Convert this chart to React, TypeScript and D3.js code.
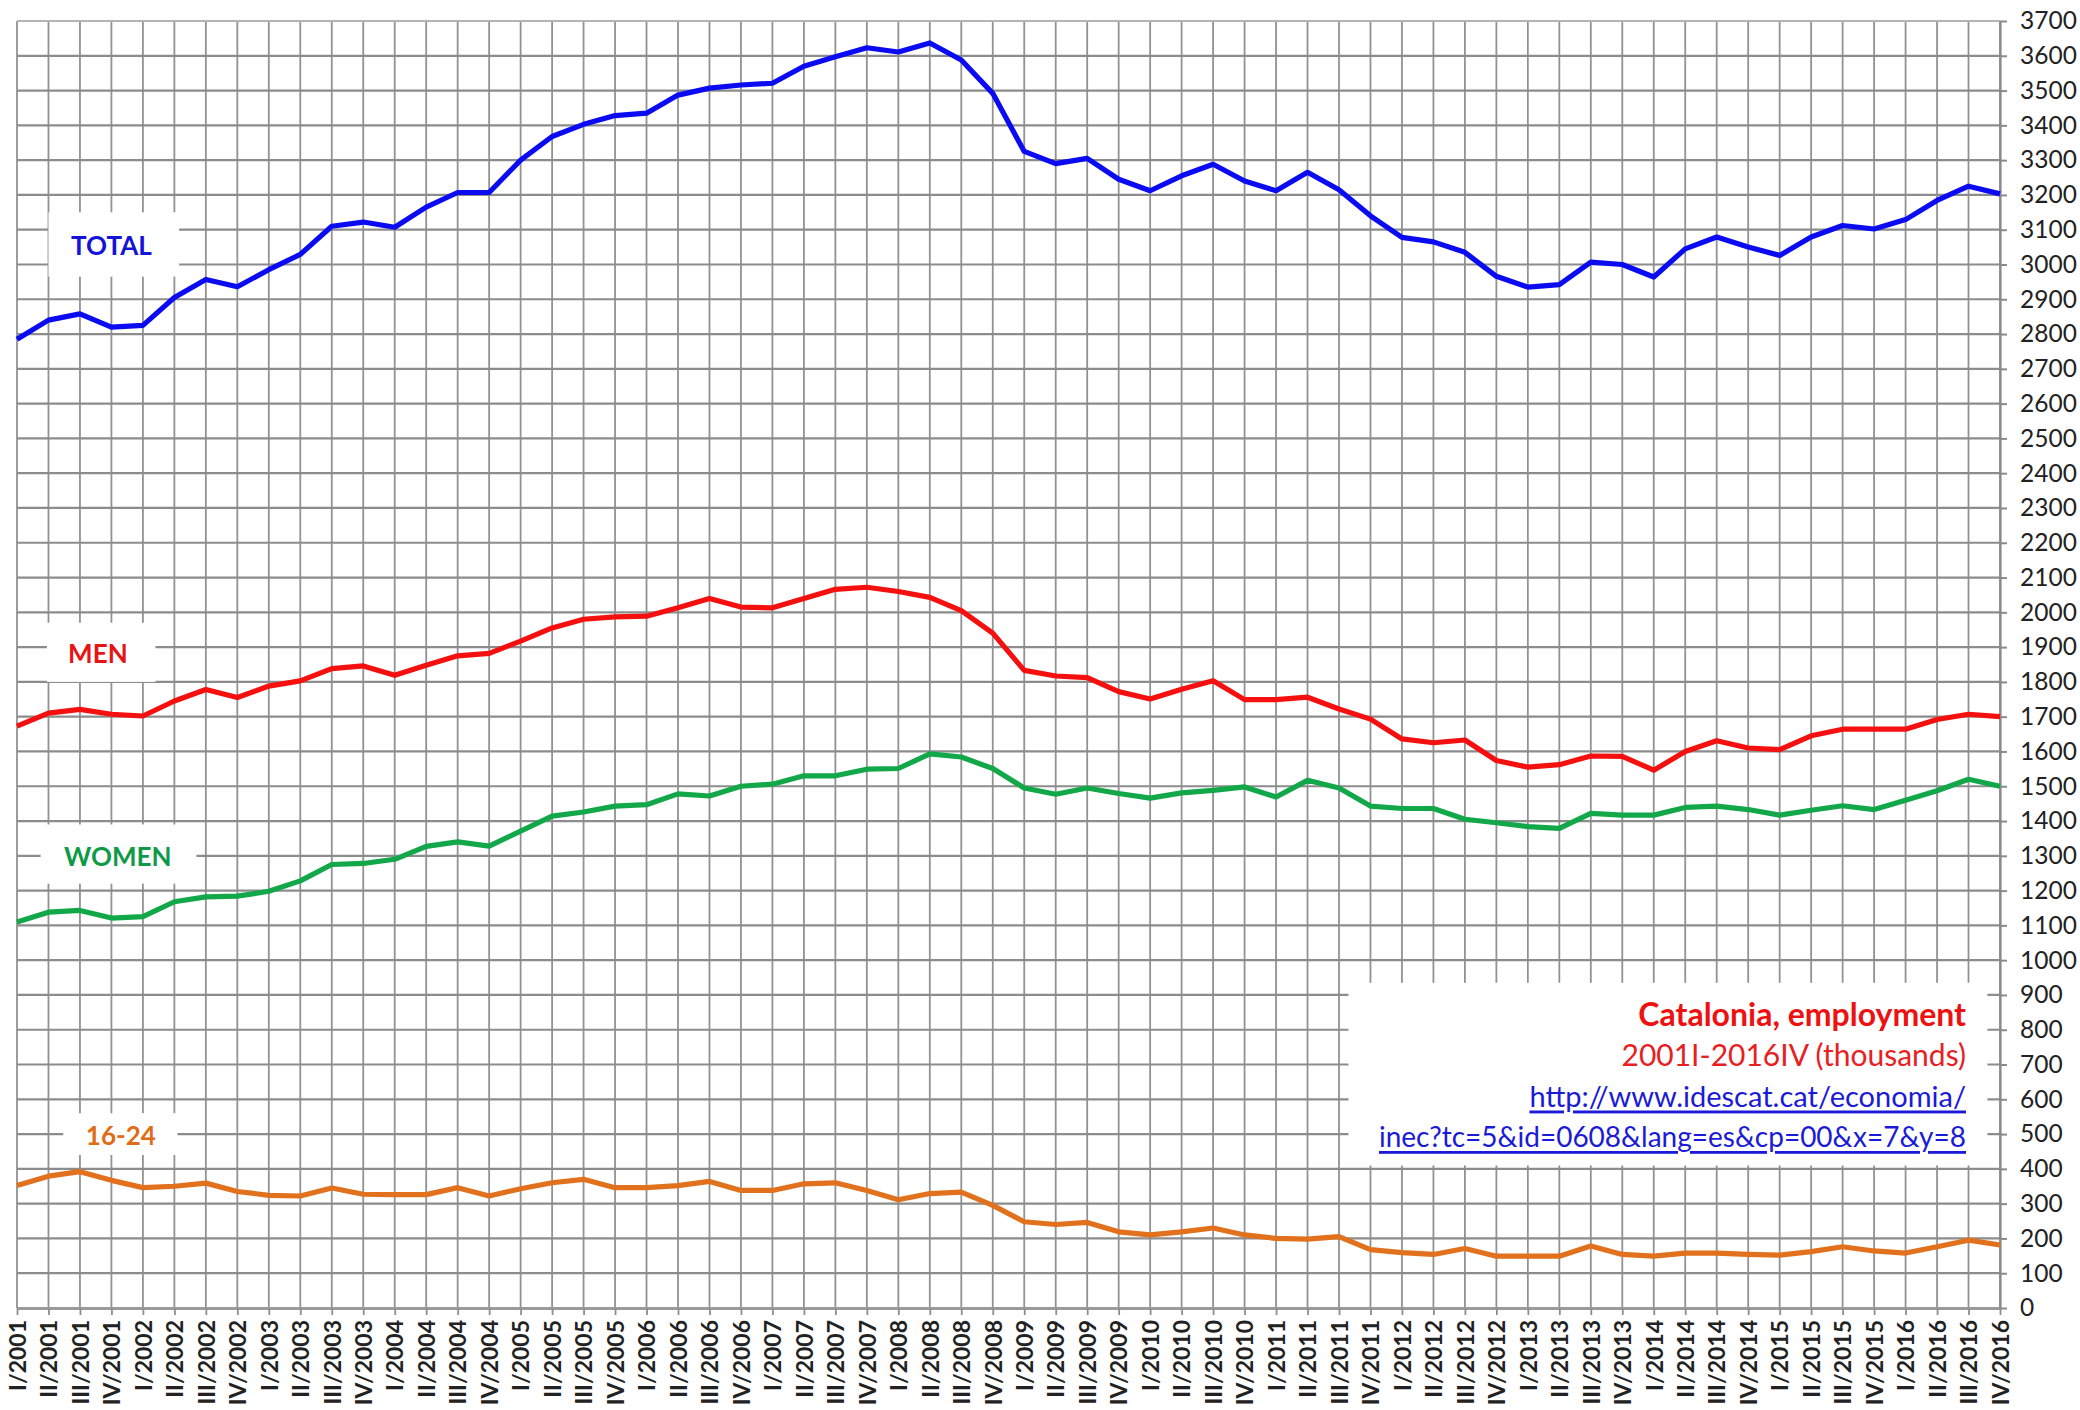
import * as d3 from "d3";
import React, { useRef, useEffect } from "react";

const years = d3.range(2001, 2017);
const romans = ["I", "II", "III", "IV"];
const quarters: string[] = years.flatMap((yr) => romans.map((r) => `${r}/${yr}`));

// thousands of people employed, 2001I..2016IV
const total = [
  2785, 2840, 2858, 2820, 2825, 2905, 2957, 2936, 2985, 3029, 3110, 3122, 3107, 3165, 3207, 3207,
  3300, 3368, 3403, 3428, 3435, 3487, 3507, 3516, 3521, 3570, 3597, 3623, 3611, 3637, 3588, 3492,
  3325, 3290, 3305, 3245, 3212, 3255, 3288, 3240, 3212, 3265, 3215, 3140, 3078, 3065, 3035, 2966,
  2935, 2942, 3007, 3000, 2964, 3045, 3079, 3050, 3026, 3079, 3112, 3102, 3129, 3184, 3225, 3203,
];
const men = [
  1673, 1710, 1721, 1707, 1702, 1745, 1778, 1755, 1788, 1803, 1838, 1846, 1819, 1848, 1875, 1882,
  1917, 1955, 1980, 1987, 1989, 2013, 2040, 2015, 2013, 2040, 2066, 2072, 2060, 2043, 2005, 1940,
  1833, 1817, 1812, 1772, 1751, 1779, 1803, 1749, 1749, 1756, 1722, 1693, 1636, 1625, 1633, 1574,
  1555, 1562, 1587, 1586, 1546, 1600, 1631, 1610, 1605, 1645, 1664, 1664, 1664, 1692, 1707, 1700,
];
const women = [
  1110, 1138, 1143, 1121, 1125, 1168, 1182, 1184, 1198, 1228, 1275, 1278, 1290, 1327, 1340, 1328,
  1371, 1414, 1426, 1443, 1447, 1478, 1472, 1500, 1506, 1530, 1530, 1549, 1551, 1593, 1584, 1551,
  1495, 1477, 1495, 1479, 1466, 1481, 1488, 1498, 1469, 1517, 1495, 1443, 1436, 1436, 1405, 1395,
  1384, 1379, 1422, 1417, 1417, 1439, 1443, 1433, 1417, 1431, 1444, 1433, 1460, 1487, 1520, 1500,
];
const youth = [
  352, 379, 392, 367, 346, 350, 359, 335, 324, 322, 345, 327, 326, 326, 346, 322,
  343, 360, 370, 346, 346, 352, 364, 338, 338, 357, 360, 338, 311, 329, 333, 295,
  248, 240, 246, 219, 210, 219, 230, 210, 200, 198, 205, 168, 159, 154, 171, 149,
  149, 149, 178, 154, 149, 158, 158, 154, 152, 162, 176, 164, 158, 176, 195, 181,
];

const yTicks = d3.range(0, 3800, 100);

const seriesList = [
  { name: "TOTAL", values: total, color: "#0b0bf2" },
  { name: "MEN", values: men, color: "#f51010" },
  { name: "WOMEN", values: women, color: "#12a84a" },
  { name: "16-24", values: youth, color: "#e2711d" },
];

// label boxes: quarter index span and value span, text anchor
const seriesLabels = [
  { text: "TOTAL", color: "#1414d8", q0: 1, q1: 5.15, v0: 2965, v1: 3150, q: 3.0, v: 3055 },
  { text: "MEN", color: "#e81414", q0: 0.95, q1: 4.4, v0: 1800, v1: 1970, q: 2.57, v: 1882 },
  { text: "WOMEN", color: "#0f9a48", q0: 0.75, q1: 5.7, v0: 1220, v1: 1390, q: 3.2, v: 1300 },
  { text: "16-24", color: "#df6c16", q0: 1.47, q1: 5.1, v0: 440, v1: 560, q: 3.3, v: 497 },
];

const infoLines = [
  { text: "Catalonia, employment", color: "#ee1111", weight: 700, size: 32, link: false },
  { text: "2001I-2016IV (thousands)", color: "#e8201f", weight: 400, size: 30, link: false },
  { text: "http://www.idescat.cat/economia/", color: "#1a1ad8", weight: 400, size: 29, link: true },
  { text: "inec?tc=5&id=0608&lang=es&cp=00&x=7&y=8", color: "#1a1ad8", weight: 400, size: 28, link: true },
];

const FONT = "Lato, 'Open Sans', sans-serif";

const EmploymentChart = () => {
  const ref = useRef<SVGSVGElement | null>(null);

  useEffect(() => {
    if (!ref.current) return;
    const W = 2080;
    const H = 1410;
    const left = 17;
    const right = 2000;
    const top = 21;
    const bottom = 1308;

    const svg = d3.select(ref.current).attr("width", W).attr("height", H);
    svg.selectAll("*").remove();
    svg.append("rect").attr("width", W).attr("height", H).attr("fill", "#fff");

    const xi = d3.scaleLinear().domain([0, quarters.length - 1]).range([left, right]);
    const xp = d3.scalePoint<string>().domain(quarters).range([left, right]);
    const y = d3.scaleLinear().domain([0, 3700]).range([bottom, top]);

    // grid
    const grid = svg.append("g");
    grid
      .selectAll(".vg")
      .data(quarters)
      .enter()
      .append("line")
      .attr("x1", (d) => xp(d) ?? 0)
      .attr("x2", (d) => xp(d) ?? 0)
      .attr("y1", top)
      .attr("y2", bottom)
      .attr("stroke", "#929292")
      .attr("stroke-width", 1.8);
    grid
      .selectAll(".hg")
      .data(yTicks)
      .enter()
      .append("line")
      .attr("x1", left)
      .attr("x2", right)
      .attr("y1", (d) => y(d))
      .attr("y2", (d) => y(d))
      .attr("stroke", (d) => (d === 3700 ? "#b4b4b4" : "#8c8c8c"))
      .attr("stroke-width", 2.2);

    // white boxes behind the series names and the info text
    seriesLabels.forEach((l) => {
      svg
        .append("rect")
        .attr("x", xi(l.q0))
        .attr("y", y(l.v1))
        .attr("width", xi(l.q1) - xi(l.q0))
        .attr("height", y(l.v0) - y(l.v1))
        .attr("fill", "#fff");
    });
    svg
      .append("rect")
      .attr("x", xi(42.3))
      .attr("y", y(935))
      .attr("width", xi(62.6) - xi(42.3))
      .attr("height", y(410) - y(935))
      .attr("fill", "#fff");

    // x axis
    const xAxis = svg
      .append("g")
      .attr("transform", `translate(0,${bottom})`)
      .call(d3.axisBottom(xp).tickSize(7).tickSizeOuter(0));
    xAxis.select(".domain").attr("stroke", "#9a9a9a").attr("stroke-width", 3);
    xAxis.selectAll(".tick line").attr("stroke", "#8e8e8e").attr("stroke-width", 1.8);
    xAxis
      .selectAll("text")
      .attr("transform", "rotate(-90)")
      .attr("x", -12)
      .attr("y", 0)
      .attr("dy", "0.36em")
      .style("text-anchor", "end")
      .style("font-family", FONT)
      .style("font-weight", 700)
      .style("font-size", "23px")
      .attr("fill", "#222");

    // y axis on the right
    const yAxis = svg
      .append("g")
      .attr("transform", `translate(${right},0)`)
      .call(
        d3
          .axisRight(y)
          .tickValues(yTicks)
          .tickFormat(d3.format("d"))
          .tickSize(7)
          .tickSizeOuter(0)
          .tickPadding(13)
      );
    yAxis.select(".domain").attr("stroke", "#8a8a8a").attr("stroke-width", 2.2);
    yAxis.selectAll(".tick line").attr("stroke", "#8a8a8a").attr("stroke-width", 2);
    yAxis
      .selectAll("text")
      .style("font-family", FONT)
      .style("font-size", "24.5px")
      .attr("fill", "#222");

    // series
    const line = d3
      .line<number>()
      .x((_, i) => xi(i))
      .y((d) => y(d));
    seriesList.forEach((s) => {
      svg
        .append("path")
        .datum(s.values)
        .attr("fill", "none")
        .attr("stroke", s.color)
        .attr("stroke-width", 5.2)
        .attr("stroke-linejoin", "round")
        .attr("d", line);
    });

    // series names
    seriesLabels.forEach((l) => {
      svg
        .append("text")
        .attr("x", xi(l.q))
        .attr("y", y(l.v))
        .attr("text-anchor", "middle")
        .attr("dominant-baseline", "central")
        .style("font-family", FONT)
        .style("font-weight", 700)
        .style("font-size", "26px")
        .attr("fill", l.color)
        .text(l.text);
    });

    // info text
    infoLines.forEach((t, i) => {
      svg
        .append("text")
        .attr("x", 1966)
        .attr("y", 1013 + i * 41)
        .attr("text-anchor", "end")
        .attr("dominant-baseline", "central")
        .style("font-family", FONT)
        .style("font-weight", t.weight)
        .style("font-size", `${t.size}px`)
        .style("text-decoration", t.link ? "underline" : "none")
        .attr("fill", t.color)
        .text(t.text);
    });
  }, []);

  return <svg ref={ref} style={{ position: "absolute", left: 0, top: 0 }} />;
};

export default function App() {
  return <EmploymentChart />;
}
